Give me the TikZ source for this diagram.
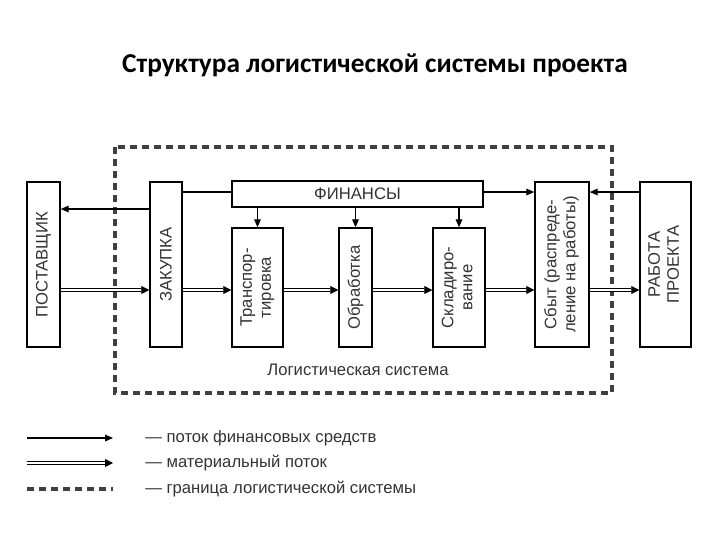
\documentclass[tikz,border=0pt]{standalone}
\usepackage{fontspec}
\setmainfont{Liberation Sans}
\newfontfamily\titlefont{Carlito}
\usetikzlibrary{arrows.meta}
\begin{document}
\begin{tikzpicture}[x=0.75pt,y=-0.75pt,
  box/.style={draw,line width=1.1pt,inner sep=0pt,font=\fontsize{12.5}{13}\selectfont,align=center,text=black!80},
  fin/.style={line width=0.9pt,-{Triangle[length=6pt,width=5pt]}},
  mat/.style={double,double distance=1.3pt,line width=0.6pt,-{Triangle[length=6pt,width=6pt]}},
  bound/.style={line width=2.4pt,dash pattern=on 5pt off 4pt,black!75}]
\useasboundingbox (0,0) rectangle (720,540);
\node[font=\titlefont\bfseries\fontsize{20.5}{23}\selectfont] (title) at (375,65) {Структура логистической системы проекта};
\draw[bound] (115,147) rectangle (612,393);
\def\tb#1{\begin{tabular}{@{}c@{}}#1\end{tabular}}
\renewcommand{\arraystretch}{1.1}
\node[box,minimum width=24.75pt,minimum height=123.75pt] (post) at (43.5,264.5) {\rotatebox{90}{ПОСТАВЩИК}};
\node[box,minimum width=24pt,minimum height=123.75pt] (zak) at (166,264.5) {\rotatebox{90}{ЗАКУПКА}};
\node[box,minimum width=188.25pt,minimum height=19.5pt] (fn) at (357.5,194) {ФИНАНСЫ};
\node[box,minimum width=38.25pt,minimum height=89.25pt] (tr) at (257.5,287.5) {\rotatebox{90}{\tb{Транспор-\\тировка}}};
\node[box,minimum width=24.75pt,minimum height=89.25pt] (ob) at (355.5,287.5) {\rotatebox{90}{Обработка}};
\node[box,minimum width=39pt,minimum height=89.25pt] (sk) at (459,287.5) {\rotatebox{90}{\tb{Складиро-\\вание}}};
\node[box,minimum width=40.5pt,minimum height=123.75pt] (sb) at (562,264.5) {\rotatebox{90}{\tb{Сбыт (распреде-\\ление на работы)}}};
\node[box,minimum width=38.25pt,minimum height=123.75pt] (rb) at (665.5,264.5) {\rotatebox{90}{\tb{РАБОТА\\ПРОЕКТА}}};
\node[font=\fontsize{12.5}{13}\selectfont,text=black!80] (ls) at (358,370) {Логистическая система};
\coordinate (m) at (0,290);
\coordinate (f) at (0,209);
\coordinate (g) at (0,192);
% financial
\draw[fin] (zak.west |- f) -- (post.east |- f);
\draw[line width=0.9pt] (zak.east |- g) -- (fn.west |- g);
\draw[fin] (fn.east |- g) -- (sb.west |- g);
\draw[fin] (rb.west |- g) -- (sb.east |- g);
\draw[fin] (fn.south -| tr.north) -- (tr.north);
\draw[fin] (fn.south -| ob.north) -- (ob.north);
\draw[fin] (fn.south -| sk.north) -- (sk.north);
% material
\draw[mat] (post.east |- m) -- (zak.west |- m);
\draw[mat] (zak.east |- m) -- (tr.west |- m);
\draw[mat] (tr.east |- m) -- (ob.west |- m);
\draw[mat] (ob.east |- m) -- (sk.west |- m);
\draw[mat] (sk.east |- m) -- (sb.west |- m);
\draw[mat] (sb.east |- m) -- (rb.west |- m);
% legend
\coordinate (l1a) at (27,438); \coordinate (l1b) at (113,438);
\coordinate (l2a) at (27,463); \coordinate (l2b) at (113,463);
\coordinate (l3a) at (27,489); \coordinate (l3b) at (113,489);
\draw[fin] (l1a) -- (l1b);
\draw[mat] (l2a) -- (l2b);
\draw[bound] (l3a) -- (l3b);
\begin{scope}[every node/.style={anchor=west,font=\fontsize{12.5}{13}\selectfont,text=black!80,inner sep=0pt}]
\node (t1) at (145,438) {— поток финансовых средств};
\node (t2) at (145,463) {— материальный поток};
\node (t3) at (145,489) {— граница логистической системы};
\end{scope}
\end{tikzpicture}
\end{document}
